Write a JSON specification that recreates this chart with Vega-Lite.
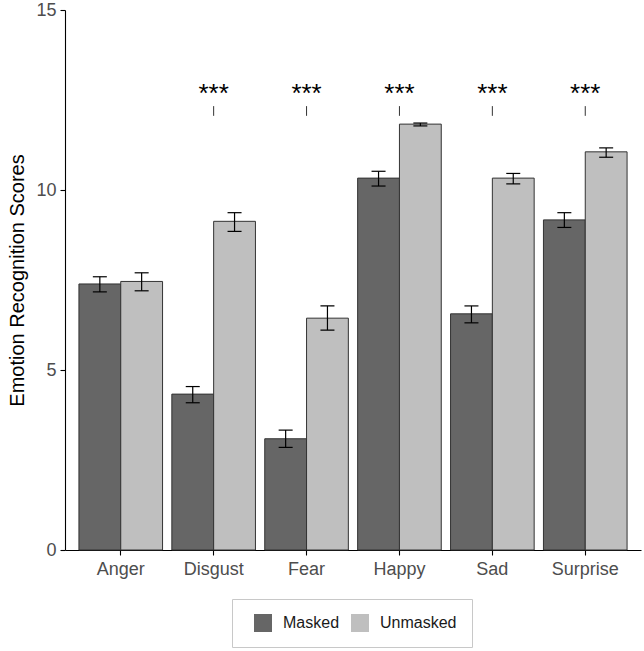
{
  "$schema": "https://vega.github.io/schema/vega-lite/v6.json",
  "width": 576,
  "height": 540,
  "autosize": {"type": "none"},
  "padding": {"left": 65, "top": 10, "right": 3, "bottom": 101},
  "config": {
    "view": {"stroke": null},
    "font": "Liberation Sans",
    "axis": {
      "domainColor": "#000000",
      "domainWidth": 1.1,
      "tickColor": "#000000",
      "tickWidth": 1.1,
      "tickSize": 5,
      "labelColor": "#4d4d4d",
      "labelFontSize": 18,
      "labelFont": "Liberation Sans",
      "titleFont": "Liberation Sans",
      "titleFontWeight": "normal",
      "titleColor": "#000000",
      "grid": false
    }
  },
  "datasets": {
    "scores": [
      {"emotion": "Anger", "condition": "Masked", "mean": 7.39, "lo": 7.17, "hi": 7.59},
      {"emotion": "Anger", "condition": "Unmasked", "mean": 7.46, "lo": 7.2, "hi": 7.7},
      {"emotion": "Disgust", "condition": "Masked", "mean": 4.33, "lo": 4.09, "hi": 4.54},
      {"emotion": "Disgust", "condition": "Unmasked", "mean": 9.13, "lo": 8.85, "hi": 9.37},
      {"emotion": "Fear", "condition": "Masked", "mean": 3.09, "lo": 2.85, "hi": 3.33},
      {"emotion": "Fear", "condition": "Unmasked", "mean": 6.44, "lo": 6.11, "hi": 6.78},
      {"emotion": "Happy", "condition": "Masked", "mean": 10.33, "lo": 10.11, "hi": 10.52},
      {"emotion": "Happy", "condition": "Unmasked", "mean": 11.83, "lo": 11.78, "hi": 11.86},
      {"emotion": "Sad", "condition": "Masked", "mean": 6.56, "lo": 6.31, "hi": 6.78},
      {"emotion": "Sad", "condition": "Unmasked", "mean": 10.33, "lo": 10.17, "hi": 10.46},
      {"emotion": "Surprise", "condition": "Masked", "mean": 9.17, "lo": 8.96, "hi": 9.37},
      {"emotion": "Surprise", "condition": "Unmasked", "mean": 11.06, "lo": 10.91, "hi": 11.17}
    ],
    "sig": [
      {"emotion": "Disgust", "label": "***", "y1": 12.06, "y2": 12.33, "ty": 12.45},
      {"emotion": "Fear", "label": "***", "y1": 12.06, "y2": 12.33, "ty": 12.45},
      {"emotion": "Happy", "label": "***", "y1": 12.06, "y2": 12.33, "ty": 12.45},
      {"emotion": "Sad", "label": "***", "y1": 12.06, "y2": 12.33, "ty": 12.45},
      {"emotion": "Surprise", "label": "***", "y1": 12.06, "y2": 12.33, "ty": 12.45}
    ]
  },
  "layer": [
    {
      "data": {"name": "scores"},
      "mark": {"type": "bar", "stroke": "#333333", "strokeWidth": 1},
      "encoding": {
        "x": {
          "field": "emotion", "type": "nominal",
          "sort": ["Anger", "Disgust", "Fear", "Happy", "Sad", "Surprise"],
          "scale": {"paddingInner": 0.1, "paddingOuter": 0.15},
          "axis": {"title": null, "labelAngle": 0, "labelPadding": 5}
        },
        "xOffset": {"field": "condition", "type": "nominal", "sort": ["Masked", "Unmasked"]},
        "y": {
          "field": "mean", "type": "quantitative",
          "scale": {"domain": [0, 15], "nice": false},
          "axis": {"title": "Emotion Recognition Scores", "values": [0, 5, 10, 15], "titleFontSize": 20, "titlePadding": 8, "labelPadding": 4}
        },
        "fill": {
          "field": "condition", "type": "nominal",
          "scale": {"domain": ["Masked", "Unmasked"], "range": ["#666666", "#bfbfbf"]},
          "legend": {
            "orient": "none",
            "legendX": 167,
            "legendY": 589,
            "direction": "horizontal",
            "title": " ",
            "titleOrient": "left",
            "titleFontSize": 12,
            "titlePadding": 7,
            "symbolType": "square",
            "symbolSize": 324,
            "symbolStrokeWidth": 0,
            "symbolOpacity": 1,
            "labelFontSize": 16,
            "labelColor": "#1a1a1a",
            "labelFont": "Liberation Sans",
            "labelOffset": 11,
            "columnPadding": 11,
            "padding": 15,
            "strokeColor": "#c8c8c8"
          }
        }
      }
    },
    {
      "data": {"name": "scores"},
      "mark": {"type": "rule", "color": "#000000", "strokeWidth": 1.2},
      "encoding": {
        "x": {"field": "emotion", "type": "nominal", "sort": ["Anger", "Disgust", "Fear", "Happy", "Sad", "Surprise"]},
        "xOffset": {"field": "condition", "type": "nominal", "sort": ["Masked", "Unmasked"]},
        "y": {"field": "lo", "type": "quantitative"},
        "y2": {"field": "hi"}
      }
    },
    {
      "data": {"name": "scores"},
      "mark": {"type": "tick", "color": "#000000", "size": 14, "thickness": 1.2, "opacity": 1},
      "encoding": {
        "x": {"field": "emotion", "type": "nominal", "sort": ["Anger", "Disgust", "Fear", "Happy", "Sad", "Surprise"]},
        "xOffset": {"field": "condition", "type": "nominal", "sort": ["Masked", "Unmasked"]},
        "y": {"field": "lo", "type": "quantitative"}
      }
    },
    {
      "data": {"name": "scores"},
      "mark": {"type": "tick", "color": "#000000", "size": 14, "thickness": 1.2, "opacity": 1},
      "encoding": {
        "x": {"field": "emotion", "type": "nominal", "sort": ["Anger", "Disgust", "Fear", "Happy", "Sad", "Surprise"]},
        "xOffset": {"field": "condition", "type": "nominal", "sort": ["Masked", "Unmasked"]},
        "y": {"field": "hi", "type": "quantitative"}
      }
    },
    {
      "data": {"name": "sig"},
      "mark": {"type": "rule", "color": "#333333", "strokeWidth": 1},
      "encoding": {
        "x": {"field": "emotion", "type": "nominal", "sort": ["Anger", "Disgust", "Fear", "Happy", "Sad", "Surprise"]},
        "y": {"field": "y1", "type": "quantitative"},
        "y2": {"field": "y2"}
      }
    },
    {
      "data": {"name": "sig"},
      "mark": {"type": "text", "fontSize": 26, "baseline": "alphabetic", "color": "#000000", "font": "Liberation Sans"},
      "encoding": {
        "x": {"field": "emotion", "type": "nominal", "sort": ["Anger", "Disgust", "Fear", "Happy", "Sad", "Surprise"]},
        "y": {"field": "ty", "type": "quantitative"},
        "text": {"field": "label"}
      }
    }
  ]
}
